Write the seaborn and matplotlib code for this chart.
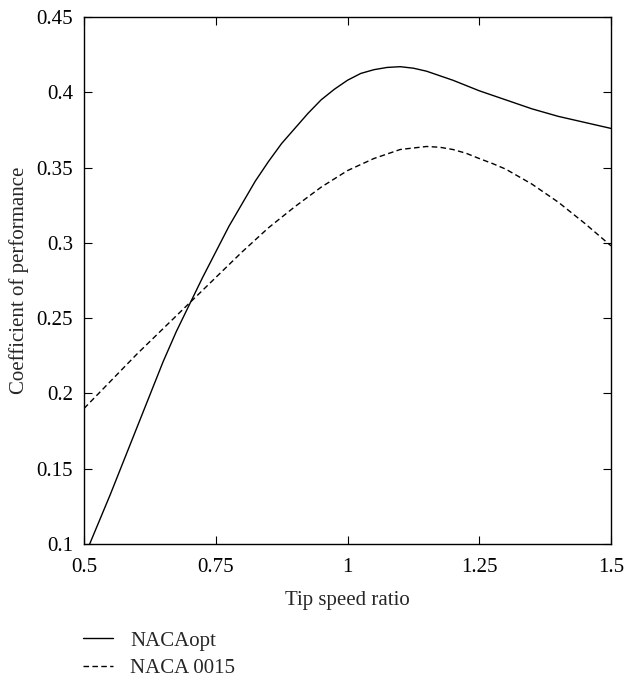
import matplotlib
matplotlib.use("Agg")
import matplotlib.pyplot as plt
import seaborn as sns
import pandas as pd

tsr = [0.5, 0.525, 0.55, 0.575, 0.6, 0.625, 0.65, 0.675, 0.7, 0.725, 0.75, 0.775,
       0.8, 0.825, 0.85, 0.875, 0.9, 0.925, 0.95, 0.975, 1.0, 1.025, 1.05, 1.075,
       1.1, 1.125, 1.15, 1.175, 1.2, 1.225, 1.25, 1.275, 1.3, 1.325, 1.35, 1.375,
       1.4, 1.425, 1.45, 1.475, 1.5]
cp_nacaopt = [0.091, 0.112, 0.133, 0.155, 0.177, 0.199, 0.221, 0.241, 0.259, 0.277, 0.294, 0.311,
              0.326, 0.341, 0.354, 0.366, 0.376, 0.386, 0.395, 0.402, 0.408, 0.4125, 0.415, 0.4165,
              0.417, 0.416, 0.414, 0.411, 0.408, 0.4045, 0.401, 0.398, 0.395, 0.392, 0.389, 0.3865,
              0.384, 0.382, 0.380, 0.378, 0.376]
cp_naca0015 = [0.190, 0.199, 0.208, 0.217, 0.226, 0.2345, 0.243, 0.2515, 0.260, 0.2685, 0.277, 0.2855,
               0.294, 0.302, 0.310, 0.317, 0.324, 0.3305, 0.337, 0.3425, 0.348, 0.352, 0.356, 0.359,
               0.362, 0.363, 0.364, 0.3635, 0.362, 0.3595, 0.356, 0.3527, 0.349, 0.344, 0.339, 0.333,
               0.327, 0.320, 0.313, 0.3055, 0.298]
series_names = ["NACAopt", "NACA 0015"]
xticks = [0.5, 0.75, 1.0, 1.25, 1.5]
xticklabels = ["0.5", "0.75", "1", "1.25", "1.5"]
yticks = [0.1, 0.15, 0.2, 0.25, 0.3, 0.35, 0.4, 0.45]
yticklabels = ["0.1", "0.15", "0.2", "0.25", "0.3", "0.35", "0.4", "0.45"]

sns.set_theme(style="ticks")
plt.rcParams["font.family"] = ["Liberation Serif", "DejaVu Serif"]
FS = 15

df = pd.DataFrame({
    "tsr": tsr * 2,
    "cp": cp_nacaopt + cp_naca0015,
    "series": [series_names[0]] * len(tsr) + [series_names[1]] * len(tsr),
})

fig = plt.figure(figsize=(6.27, 6.80), dpi=100)
ax = fig.add_axes([0.134, 0.2, 0.8405, 0.775])

sns.lineplot(data=df[df.series == series_names[0]], x="tsr", y="cp", ax=ax,
             color="black", linewidth=1.0, label=series_names[0])
sns.lineplot(data=df[df.series == series_names[1]], x="tsr", y="cp", ax=ax,
             color="black", linewidth=1.0, linestyle=(0, (4, 2.4)), label=series_names[1])

ax.set_xlim(0.5, 1.5)
ax.set_ylim(0.1, 0.45)
ax.set_xticks(xticks)
ax.set_xticklabels(xticklabels)
ax.set_yticks(yticks)
ax.set_yticklabels(yticklabels)
ax.tick_params(direction="in", length=5.5, width=0.8, top=True, right=True,
               labelsize=FS, colors="black", pad=8)
ax.tick_params(axis="x", pad=10)
for s in ax.spines.values():
    s.set_linewidth(1.0)
    s.set_color("black")

ax.set_xlabel("Tip speed ratio", fontsize=FS, labelpad=10)
ax.set_ylabel("Coefficient of performance", fontsize=FS, labelpad=5)

handles, labels = ax.get_legend_handles_labels()
ax.get_legend().remove()
fig.legend(handles, labels, loc="upper left", bbox_to_anchor=(0.1324, 0.072),
           frameon=False, fontsize=FS, handlelength=1.45, handletextpad=0.8,
           labelspacing=0.38, borderaxespad=0, borderpad=0)

fig.savefig("out.png", dpi=100)
